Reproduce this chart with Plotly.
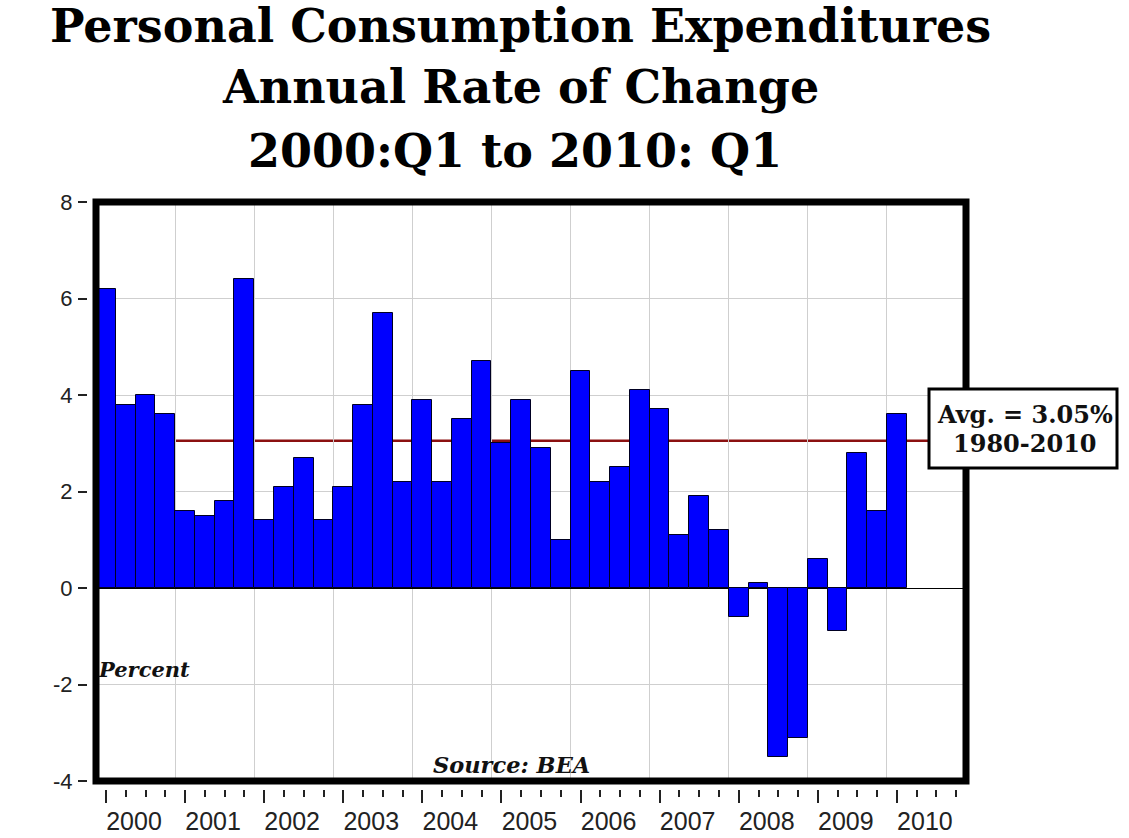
import plotly.graph_objects as go

# ---------------- data ----------------
years = [2000, 2001, 2002, 2003, 2004, 2005, 2006, 2007, 2008, 2009, 2010]
year_labels = [str(y) for y in years]
pce_change = [
    6.2, 3.8, 4.0, 3.6,      # 2000
    1.6, 1.5, 1.8, 6.4,      # 2001
    1.4, 2.1, 2.7, 1.4,      # 2002
    2.1, 3.8, 5.7, 2.2,      # 2003
    3.9, 2.2, 3.5, 4.7,      # 2004
    3.0, 3.9, 2.9, 1.0,      # 2005
    4.5, 2.2, 2.5, 4.1,      # 2006
    3.7, 1.1, 1.9, 1.2,      # 2007
    -0.6, 0.1, -3.5, -3.1,   # 2008
    0.6, -0.9, 2.8, 1.6,     # 2009
    3.6,                     # 2010
]
avg_rate = 3.05
y_ticks = [-4, -2, 0, 2, 4, 6, 8]
y_tick_labels = ["-4", "-2", "0", "2", "4", "6", "8"]
title_lines = ["Personal Consumption Expenditures", "Annual Rate of Change", "2000:Q1 to 2010: Q1"]
avg_text = ["Avg. = 3.05%", "1980-2010"]

# quarter centre positions (year + fraction)
x_pos = [years[0] + i // 4 + (i % 4 + 0.5) / 4 for i in range(len(pce_change))]
quarter_ticks = [y + q / 4 for y in years for q in range(4)]

# ---------------- geometry (page px; body margin removed by post_script) ----------------
W, H = 1129, 838
L_px, R_px = 87, 966      # paper left / right
T_px, B_px = 202, 789     # paper top / bottom
plot_left = 96
plot_bottom = 781
pw = R_px - L_px
ph = B_px - T_px
x_dom0 = (plot_left - L_px) / pw
y_dom0 = (B_px - plot_bottom) / ph
px_per_year = (R_px - plot_left) / 11.0
shift = 10 / px_per_year


def px_x(p):
    return (p - L_px) / pw


def px_y(p):
    return (B_px - p) / ph


fig = go.Figure()

fig.add_trace(go.Bar(
    x=x_pos, y=pce_change, width=0.25,
    marker=dict(color="#0000ff", line=dict(color="#000022", width=1)),
    showlegend=False, hoverinfo="x+y",
))
# dummy trace carrying the detached tick axes
fig.add_trace(go.Scatter(x=[None], y=[None], xaxis="x2", yaxis="y2",
                         showlegend=False, hoverinfo="skip"))

fig.update_layout(
    width=W, height=H,
    margin=dict(l=L_px, r=W - R_px, t=T_px, b=H - B_px, pad=0, autoexpand=False),
    paper_bgcolor="white", plot_bgcolor="white",
    bargap=0,
    xaxis=dict(domain=[x_dom0, 1], range=[2000, 2011], tickmode="array",
               tickvals=years, showticklabels=False, ticks="", automargin=False,
               showgrid=True, gridcolor="#cfcfcf", gridwidth=1,
               zeroline=False, showline=False),
    yaxis=dict(domain=[y_dom0, 1], range=[-4, 8], tickvals=y_ticks,
               showticklabels=False, ticks="", automargin=False,
               showgrid=True, gridcolor="#cfcfcf", gridwidth=1,
               zeroline=True, zerolinecolor="#000000", zerolinewidth=1,
               showline=False),
    xaxis2=dict(overlaying="x", anchor="free", position=0, side="bottom",
                range=[2000 - shift, 2011 - shift], automargin=False,
                tickmode="array", tickvals=years, ticktext=year_labels,
                ticks="outside", ticklen=13, tickwidth=1.5, tickcolor="#222222",
                minor=dict(tickmode="array", tickvals=quarter_ticks, ticks="outside",
                           ticklen=7, tickwidth=1.5, tickcolor="#222222", showgrid=False),
                ticklabelshift=28, ticklabelstandoff=-3,
                tickfont=dict(family="Liberation Sans, Arial", size=25, color="#222222"),
                showgrid=False, zeroline=False, showline=False),
    yaxis2=dict(overlaying="y", anchor="free", position=0, side="left",
                range=[-4, 8], tickmode="array", tickvals=y_ticks, ticktext=y_tick_labels,
                automargin=False,
                ticks="outside", ticklen=9, tickwidth=1.5, tickcolor="#222222",
                ticklabelstandoff=1,
                tickfont=dict(family="Liberation Sans, Arial", size=22, color="#222222"),
                showgrid=False, zeroline=False, showline=False),
)

# average line (between gridlines and bars)
fig.add_shape(type="line", xref="paper", yref="y",
              x0=x_dom0, x1=px_x(929), y0=avg_rate, y1=avg_rate,
              line=dict(color="#8b1010", width=2.5), layer="between")

# thick frame around the plot area
fig.add_shape(type="rect", xref="x domain", yref="y domain",
              x0=0, x1=1, y0=0, y1=1,
              line=dict(color="#000000", width=7), layer="above")

# average box
fig.add_shape(type="rect", xref="paper", yref="paper",
              x0=px_x(929), x1=px_x(1117), y0=px_y(468), y1=px_y(389),
              fillcolor="white", line=dict(color="#000000", width=3), layer="above")
for txt, cy in zip(avg_text, [414, 443]):
    fig.add_annotation(text="<b>" + txt + "</b>", xref="paper", yref="paper",
                       x=px_x(1025), y=px_y(cy), xanchor="center", yanchor="middle",
                       showarrow=False,
                       font=dict(family="DejaVu Serif, Georgia, serif", size=24, color="#111111"))

# title lines
title_centers = [(520, 26.5), (520, 86.5), (515, 150.5)]
for txt, (cx, cy) in zip(title_lines, title_centers):
    fig.add_annotation(text="<b>" + txt + "</b>", xref="paper", yref="paper",
                       x=px_x(cx), y=px_y(cy), xanchor="center", yanchor="middle",
                       showarrow=False,
                       font=dict(family="DejaVu Serif, Georgia, serif", size=46, color="#000000"))

# Percent label
fig.add_annotation(text="<b><i>Percent</i></b>", xref="x domain", yref="y",
                   x=0.0, y=-1.69, xanchor="left", yanchor="middle", showarrow=False,
                   font=dict(family="DejaVu Serif, serif", size=21, color="#111111"))

# Source label
fig.add_annotation(text="<b><i>Source: BEA</i></b>", xref="x domain", yref="y",
                   x=0.4776, y=-3.67, xanchor="center", yanchor="middle", showarrow=False,
                   font=dict(family="DejaVu Serif, serif", size=22.5, color="#111111"))

fig.write_html("out.html", config={"displayModeBar": False},
               post_script="document.body.style.margin='0px';")
